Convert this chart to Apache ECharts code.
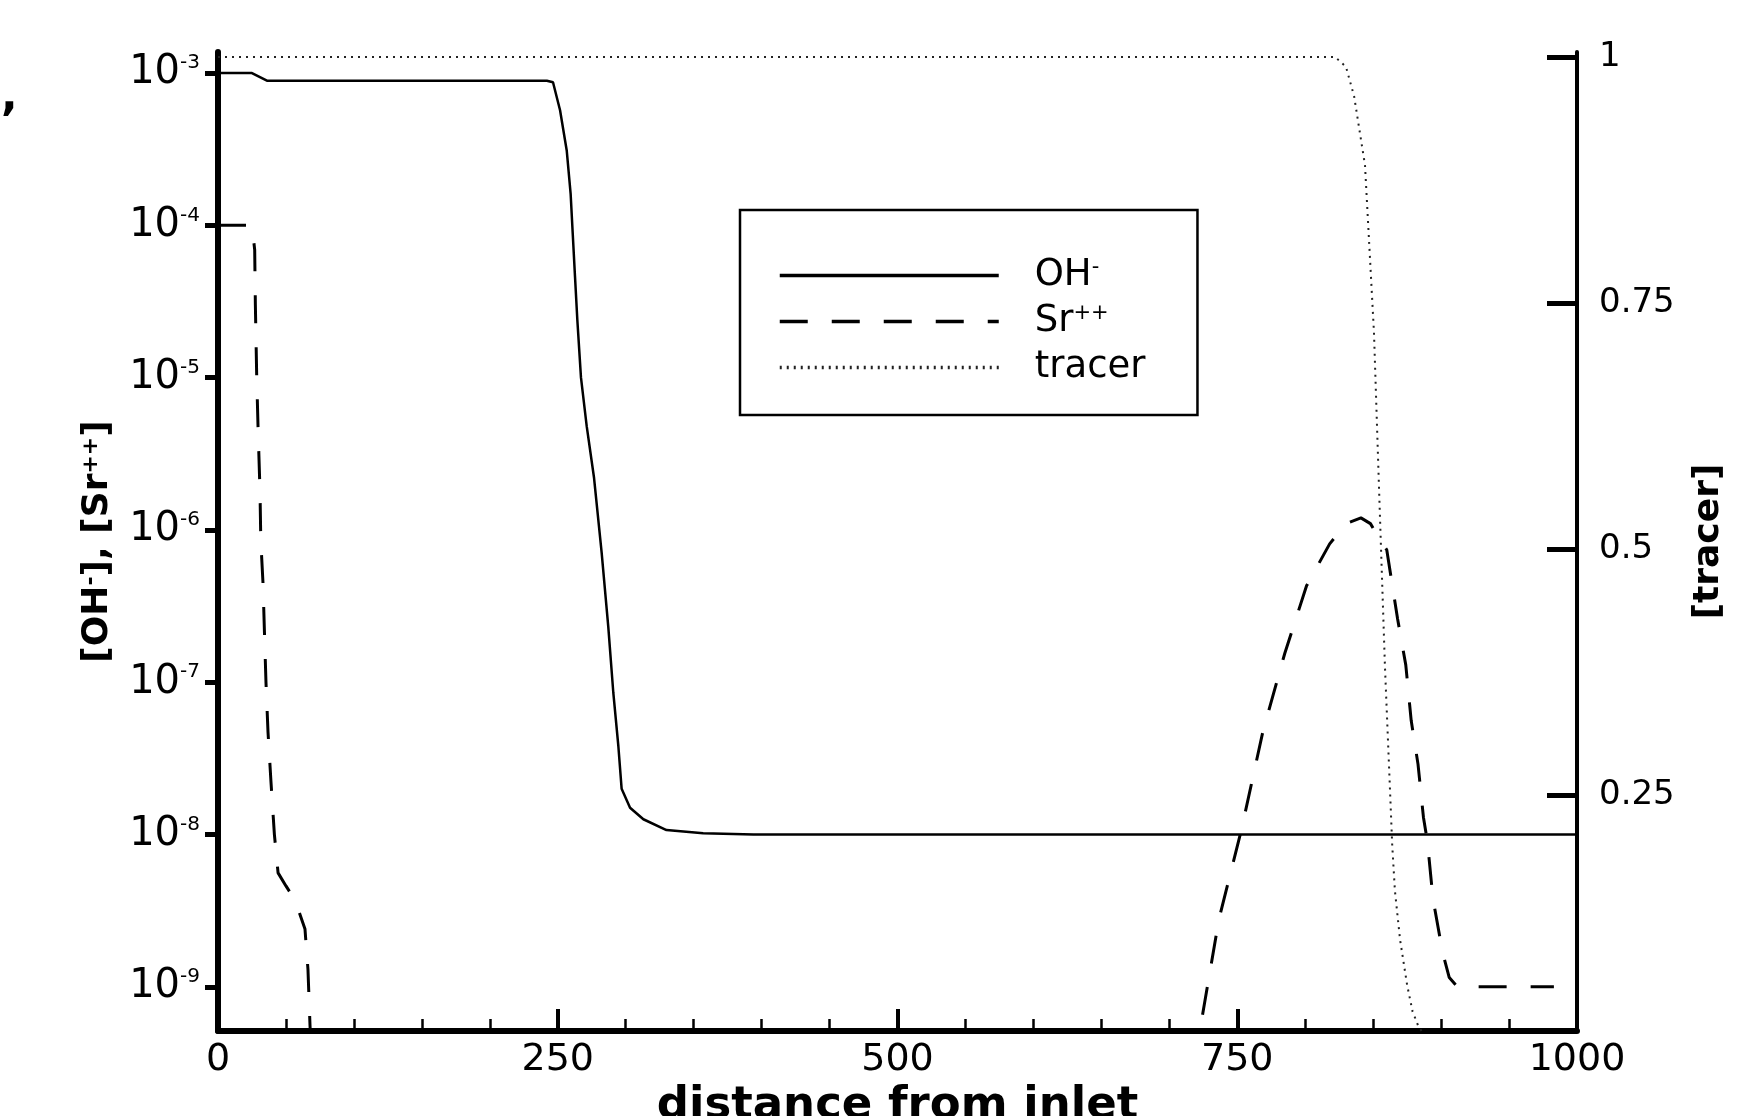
<!DOCTYPE html>
<html>
<head>
<meta charset="utf-8">
<title>OH-, Sr++ and tracer along the column</title>
<script src="https://cdn.jsdelivr.net/npm/echarts@6/dist/echarts.min.js"></script>
<style>
  html, body { margin: 0; padding: 0; background: #fff; }
  #chart { width: 1737px; height: 1116px; }
</style>
</head>
<body>
<div id="chart"></div>
<script>
// [distance from inlet, concentration]
const ohPoints = [
  [0, 1.0e-3], [25, 1.0e-3], [36, 8.9e-4], [242, 8.9e-4], [246.5, 8.7e-4],
  [251.7, 5.7e-4], [256.6, 3.1e-4], [259.5, 1.6e-4], [261, 8.9e-5], [262.7, 4.6e-5],
  [264.4, 2.4e-5], [267.1, 1.0e-5], [271.3, 4.8e-6], [276.7, 2.2e-6], [282.3, 7.1e-7],
  [287.2, 2.3e-7], [290.9, 8.5e-8], [294.6, 3.8e-8], [297, 2.0e-8], [303.2, 1.5e-8],
  [313, 1.26e-8], [330, 1.07e-8], [357, 1.02e-8], [394, 1.0e-8], [1000, 1.0e-8]
]

const srPoints = [
  [0, 1.0e-4], [25, 1.0e-4], [27, 6.9e-5], [27.5, 3.0e-5], [28.5, 1.0e-5],
  [29.5, 4.6e-6], [30.9, 1.8e-6], [31.5, 8.5e-7], [33.1, 4.5e-7], [34.2, 2.1e-7],
  [35.3, 1.0e-7], [36.8, 4.7e-8], [39, 2.2e-8], [41.5, 1.0e-8], [44.2, 5.6e-9],
  [50, 4.6e-9], [56.7, 3.7e-9], [64, 2.4e-9], [66.2, 1.3e-9], [67.7, 5.6e-10], [69, 3.0e-10],
  [400, null],
  [721, 3.0e-10], [724, 6.2e-10], [736.6, 2.8e-9], [752.8, 1.05e-8], [769, 4.8e-8],
  [785, 1.55e-7], [801, 4.3e-7], [818, 8.1e-7], [830, 1.1e-6], [841, 1.2e-6],
  [848, 1.1e-6], [854, 8.9e-7], [860, 7.4e-7], [868, 2.6e-7], [874, 1.3e-7],
  [878, 5.6e-8], [883, 2.9e-8], [887, 1.3e-8], [890, 8.9e-9], [894, 3.8e-9],
  [901, 1.7e-9], [906, 1.15e-9], [912, 1.0e-9], [983, 1.0e-9]
]

const tracerPoints = [
  [0, 1], [822, 1], [830, 0.99], [836, 0.96], [844, 0.89], [850.6, 0.72],
  [854.6, 0.55], [858.7, 0.38], [862.4, 0.255], [864, 0.2], [866, 0.153],
  [869.8, 0.103], [875, 0.057], [879, 0.03], [883, 0.016], [890, 0], [1000, 0]
]

const tracerTicks = [0.25, 0.5, 0.75, 1]
const legendLabels = {
  'OH-': '{b|OH}{s|-}',
  'Sr++': '{b|Sr}{s|++}',
  'tracer': '{b|tracer}'
}

const font = 'DejaVu Sans'
const chart = echarts.init(document.getElementById('chart'))

chart.setOption({
  animation: false,
  backgroundColor: '#fff',
  title: {
    text: ',',
    left: -4,
    top: 72,
    textStyle: { fontFamily: font, fontSize: 44, fontWeight: 'bold', color: '#000' }
  },
  grid: {
    left: 218,
    right: 160,
    top: 52,
    bottom: 85,
    containLabel: false,
    outerBoundsMode: 'none'
  },
  legend: {
    orient: 'vertical',
    left: 740,
    top: 210,
    padding: [47, 52, 29, 38],
    itemWidth: 219,
    itemHeight: 14,
    itemGap: 9,
    selectedMode: false,
    borderColor: '#000',
    borderWidth: 2.5,
    data: ['OH-', 'Sr++', 'tracer'],
    formatter: (name) => legendLabels[name],
    itemStyle: { color: 'transparent', borderWidth: 0, opacity: 0 },
    lineStyle: { width: 3.5 },
    textStyle: {
      padding: [0, 0, 0, 31],
      rich: {
        b: { fontFamily: font, fontSize: 37, lineHeight: 36, color: '#000' },
        s: { fontFamily: font, fontSize: 21, lineHeight: 20, verticalAlign: 'top', color: '#000' }
      }
    }
  },
  xAxis: {
    type: 'value',
    min: 0,
    max: 1000,
    interval: 250,
    name: 'distance from inlet',
    nameLocation: 'middle',
    nameGap: 44,
    nameTextStyle: { fontFamily: font, fontSize: 45, fontWeight: 'bold', color: '#000' },
    axisLine: { show: true, lineStyle: { color: '#000', width: 6 } },
    axisTick: { show: true, inside: true, length: 22, lineStyle: { color: '#000', width: 4 } },
    minorTick: { show: true, splitNumber: 5, length: 12, lineStyle: { color: '#000', width: 2.5 } },
    axisLabel: {
      fontFamily: font,
      fontSize: 38,
      color: '#000',
      margin: 10,
      formatter: (v) => String(v)
    },
    splitLine: { show: false }
  },
  yAxis: [
    {
      type: 'log',
      logBase: 10,
      position: 'left',
      min: 5.13e-10,
      max: 1.374e-3,
      name: '{b|[OH}{s|-}{b|], [Sr}{s|++}{b|]}',
      nameLocation: 'middle',
      nameRotate: 90,
      nameGap: 102,
      nameTextStyle: {
        rich: {
          b: { fontFamily: font, fontSize: 36, lineHeight: 36, fontWeight: 'bold', color: '#000' },
          s: { fontFamily: font, fontSize: 22, lineHeight: 22, fontWeight: 'bold', verticalAlign: 'top', color: '#000' }
        }
      },
      axisLine: { show: true, lineStyle: { color: '#000', width: 6 } },
      axisTick: { show: true, inside: false, length: 13, lineStyle: { color: '#000', width: 5 } },
      axisLabel: {
        margin: 18,
        showMinLabel: false,
        showMaxLabel: false,
        formatter: (v) => '{b|10}{s|' + Math.round(Math.log10(v)) + '}',
        rich: {
          b: { fontFamily: font, fontSize: 40, lineHeight: 40, color: '#000' },
          s: { fontFamily: font, fontSize: 20, lineHeight: 20, verticalAlign: 'top', color: '#000' }
        }
      },
      splitLine: { show: false }
    },
    {
      type: 'value',
      position: 'right',
      min: 0.0102,
      max: 1.005,
      name: '[tracer]',
      nameLocation: 'middle',
      nameRotate: 90,
      nameGap: 114,
      nameTextStyle: { fontFamily: font, fontSize: 36, fontWeight: 'bold', color: '#000' },
      axisLine: { show: true, lineStyle: { color: '#000', width: 4 } },
      axisTick: {
        show: true,
        inside: true,
        length: 30,
        customValues: tracerTicks,
        lineStyle: { color: '#000', width: 5 }
      },
      axisLabel: {
        customValues: tracerTicks,
        fontFamily: font,
        fontSize: 34,
        color: '#000',
        margin: 22
      },
      splitLine: { show: false }
    }
  ],
  series: [
    {
      name: 'OH-',
      type: 'line',
      yAxisIndex: 0,
      data: ohPoints,
      symbol: 'none',
      lineStyle: { color: '#000', width: 2.5, type: 'solid' },
      itemStyle: { color: '#000' }
    },
    {
      name: 'Sr++',
      type: 'line',
      yAxisIndex: 0,
      data: srPoints,
      symbol: 'none',
      connectNulls: false,
      lineStyle: { color: '#000', width: 3, type: [28, 24] },
      itemStyle: { color: '#000' }
    },
    {
      name: 'tracer',
      type: 'line',
      yAxisIndex: 1,
      data: tracerPoints,
      symbol: 'none',
      lineStyle: { color: '#222', width: 2, type: [2, 5] },
      itemStyle: { color: '#222' }
    }
  ]
})
</script>
</body>
</html>
